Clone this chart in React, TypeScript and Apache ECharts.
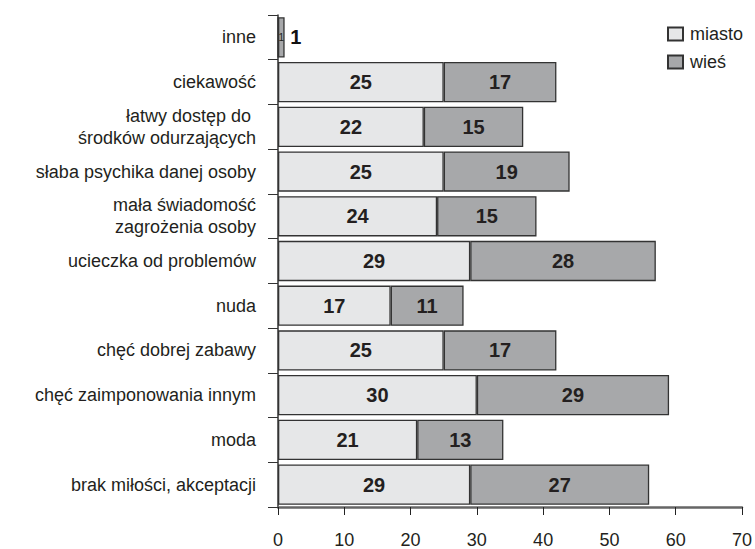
import React, { useEffect, useRef } from "react";
import * as echarts from "echarts";

const categories = [
  "brak miłości, akceptacji",
  "moda",
  "chęć zaimponowania innym",
  "chęć dobrej zabawy",
  "nuda",
  "ucieczka od problemów",
  "mała świadomość\nzagrożenia osoby",
  "słaba psychika danej osoby",
  "łatwy dostęp do \nśrodków odurzających",
  "ciekawość",
  "inne",
];
const miasto = [29, 21, 30, 25, 17, 29, 24, 25, 22, 25, 0];
const wies = [27, 13, 29, 17, 11, 28, 15, 19, 15, 17, 1];
const xTicks = { min: 0, max: 70, interval: 10 };

const FONT = "'Liberation Sans', Arial, sans-serif";

export default function App() {
  const ref = useRef<HTMLDivElement>(null);
  useEffect(() => {
    if (!ref.current) return;
    const chart = echarts.init(ref.current, undefined, { renderer: "svg" });
    const outlier = categories.length - 1;
    chart.setOption({
      animation: false,
      textStyle: { fontFamily: FONT },
      legend: {
        data: ["miasto", "wieś"],
        orient: "vertical",
        left: 667,
        top: 25,
        padding: 0,
        icon: "rect",
        itemWidth: 15,
        itemHeight: 13,
        itemGap: 10,
        textStyle: { fontSize: 18, color: "#231f20", fontFamily: FONT, padding: [0, 0, 0, 2] },
      },
      grid: { left: 278, right: 10, top: 15, bottom: 42, containLabel: false },
      xAxis: {
        type: "value",
        min: xTicks.min,
        max: xTicks.max,
        interval: xTicks.interval,
        splitLine: { show: false },
        axisLine: { show: true, lineStyle: { color: "#666", width: 2.5 } },
        axisTick: { show: true, length: 8, lineStyle: { color: "#222" } },
        axisLabel: { fontSize: 18, color: "#231f20", margin: 24, fontFamily: FONT },
      },
      yAxis: {
        type: "category",
        data: categories,
        axisLine: { show: true, lineStyle: { color: "#333", width: 1.5 } },
        axisTick: { show: true, length: 10, lineStyle: { color: "#333" } },
        axisLabel: { fontSize: 18, color: "#231f20", margin: 22, lineHeight: 22, fontFamily: FONT },
      },
      series: [
        {
          name: "miasto",
          type: "bar",
          stack: "s",
          barCategoryGap: "10%",
          data: miasto,
          itemStyle: { color: "#e6e7e8", borderColor: "#333", borderWidth: 1.3 },
          label: {
            show: true,
            position: "inside",
            fontSize: 20,
            fontWeight: "bold",
            color: "#231f20",
            fontFamily: FONT,
            formatter: (p: any) => (p.value ? String(p.value) : ""),
          },
        },
        {
          name: "wieś",
          type: "bar",
          stack: "s",
          barCategoryGap: "10%",
          data: wies.map((v, i) =>
            i === outlier
              ? { value: v, label: { fontSize: 10, fontWeight: "normal" } }
              : v
          ),
          itemStyle: { color: "#a7a8aa", borderColor: "#333", borderWidth: 1.3 },
          label: {
            show: true,
            position: "inside",
            fontSize: 20,
            fontWeight: "bold",
            color: "#231f20",
            fontFamily: FONT,
          },
        },
        {
          name: "suma",
          type: "scatter",
          data: [[miasto[outlier] + wies[outlier], categories[outlier]]],
          symbolSize: 1,
          itemStyle: { color: "rgba(0,0,0,0)", opacity: 1 },
          label: {
            show: true,
            position: "right",
            distance: 5,
            fontSize: 20,
            fontWeight: "bold",
            color: "#111",
            opacity: 1,
            fontFamily: FONT,
            formatter: (p: any) => String(p.value[0]),
          },
        },
      ],
    });
    return () => chart.dispose();
  }, []);
  return (
    <div
      ref={ref}
      style={{ position: "fixed", left: 0, top: 0, width: 755, height: 549, background: "#fff" }}
    />
  );
}
